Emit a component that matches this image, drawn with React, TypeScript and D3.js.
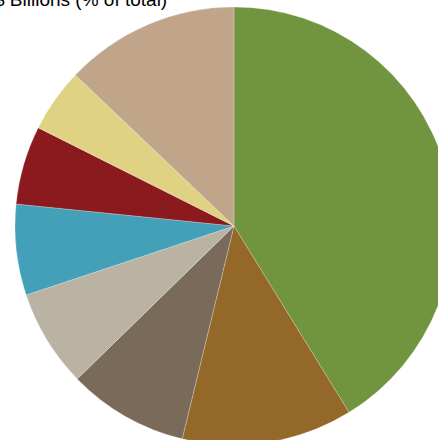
import React from "react";
import * as d3 from "d3";

const categories = ["Category A", "Category B", "Category C", "Category D", "Category E", "Category F", "Category G", "Category H"];
const shares = [41.2, 12.6, 8.9, 7.2, 6.7, 5.8, 4.7, 12.9];
const colors = ["#71943f", "#946828", "#7a6a5a", "#bab3a3", "#449fb9", "#8b1a1e", "#dfd283", "#c0a58a"];
const title = "$ Billions (% of total)";

export default function App() {
  const width = 438;
  const height = 440;
  const cx = 234;
  const cy = 226;
  const radius = 219;
  const data = categories.map((c, i) => ({ name: c, value: shares[i], color: colors[i] }));
  const pie = d3.pie<any>().sort(null).value((d: any) => d.value);
  const arc = d3.arc<any>().innerRadius(0).outerRadius(radius);
  const arcs = pie(data);
  return (
    <svg width={width} height={height} style={{ position: "absolute", left: 0, top: 0, display: "block" }}>
      <g transform={`translate(${cx},${cy})`}>
        {arcs.map((a, i) => (
          <path key={i} d={arc(a) as string} fill={a.data.color} stroke="#ffffff" strokeWidth={0.4} strokeOpacity={0.6} />
        ))}
      </g>
      <text x={-6} y={6} fontFamily="Liberation Sans, Arial, sans-serif" fontSize={19} fill="#000">
        {title}
      </text>
    </svg>
  );
}
